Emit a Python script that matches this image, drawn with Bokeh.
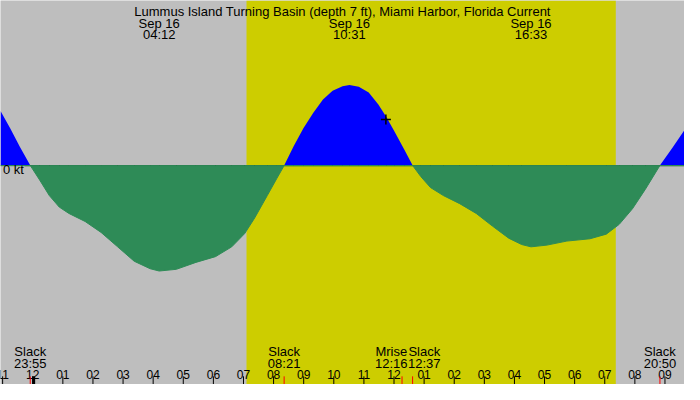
import numpy as np
from bokeh.plotting import figure
from bokeh.models import Range1d, BoxAnnotation
from bokeh.core.properties import value
from bokeh.embed import file_html
from bokeh.resources import INLINE

# ---------------- data ----------------
title_text = "Lummus Island Turning Basin (depth 7 ft), Miami Harbor, Florida Current"

# tidal current: hours since Sep 16 00:00 and speed in knots (+ flood, - ebb)
curve_hours = [-1.07, -0.75, -0.42, -0.08, 0.23, 0.55, 0.88, 1.20, 1.74, 2.27,
               2.82, 3.37, 3.90, 4.20, 4.77, 5.42, 6.07, 6.61, 7.04, 7.37,
               7.79, 8.11, 8.35, 8.67, 8.99, 9.32, 9.64, 9.96, 10.29, 10.52,
               10.83, 11.16, 11.48, 11.75, 12.02, 12.34, 12.62, 12.89, 13.21, 13.64,
               14.18, 14.73, 15.27, 15.81, 16.24, 16.55, 17.08, 17.74, 18.51, 19.05,
               19.48, 19.92, 20.35, 20.83, 21.26, 21.65]
curve_knots = [0.95, 0.65, 0.32, 0.00, -0.25, -0.52, -0.72, -0.83, -0.97, -1.16,
               -1.41, -1.66, -1.79, -1.83, -1.80, -1.68, -1.58, -1.41, -1.18, -0.91,
               -0.52, -0.22, 0.00, 0.34, 0.65, 0.92, 1.15, 1.30, 1.38, 1.40,
               1.37, 1.27, 1.06, 0.84, 0.59, 0.28, 0.00, -0.19, -0.38, -0.52,
               -0.66, -0.83, -1.05, -1.26, -1.37, -1.41, -1.38, -1.31, -1.27, -1.19,
               -1.02, -0.75, -0.41, 0.00, 0.32, 0.62]

# max current events (top labels)
peak_hours = [4 + 12/60, 10 + 31/60, 16 + 33/60]
peak_dates = ["Sep 16", "Sep 16", "Sep 16"]
peak_times = ["04:12", "10:31", "16:33"]

# events along the bottom
event_hours = [-5/60, 8 + 21/60, 12 + 16/60, 12 + 37/60, 20 + 50/60]
event_names = ["Slack", "Slack", "Mrise", "Slack", "Slack"]
event_times = ["23:55", "08:21", "12:16", "12:37", "20:50"]

# hour ticks
tick_hours = list(range(-1, 22))
tick_labels = ["11", "12", "01", "02", "03", "04", "05", "06", "07", "08", "09", "10",
               "11", "12", "01", "02", "03", "04", "05", "06", "07", "08", "09"]

# daylight
sunrise_hour = 7 + 6/60
sunset_hour = 19 + 22/60

# current-time marker
now_hour = 11.73
now_knots = 0.80

# ---------------- layout ----------------
W, H = 684, 384
X0, X1 = -33 / 30.81, 667 / 30.81
Y_TOP, Y_BOT = 172 / 60, -228 / 60
sx = W / 700.0


def ref_y(pix):
    return Y_TOP - pix / 400.0 * (Y_TOP - Y_BOT)


def ref_dx(pix):
    return pix / 700.0 * (X1 - X0)


FONT = value("Liberation Sans")
FS = "13px"
FS_TICK = "12px"

p = figure(width=W, height=H, x_range=Range1d(X0, X1), y_range=Range1d(Y_BOT, Y_TOP),
           toolbar_location=None, output_backend="svg",
           x_axis_location=None, y_axis_location=None, min_border=0)
p.grid.visible = False
p.outline_line_color = None
p.background_fill_color = "#BEBEBE"
p.border_fill_color = "#BEBEBE"

p.add_layout(BoxAnnotation(left=sunrise_hour, right=sunset_hour, fill_color="#CDCD00",
                           fill_alpha=1, line_color=None, level="underlay"))

hrs = np.array(curve_hours)
kts = np.array(curve_knots)

p.varea(x=hrs, y1=np.zeros_like(kts), y2=np.maximum(kts, 0), fill_color="#0000FF")
p.line(x=[X0 + ref_dx(25), X1], y=[0, 0], line_color="black", line_width=1)
neg = np.minimum(kts, 0)
p.patch(x=np.concatenate([hrs, hrs[::-1]]), y=np.concatenate([neg, np.zeros_like(neg)]),
        fill_color="#2E8B57", line_color="#2E8B57", line_width=1)

# current-time marker
p.scatter(x=[now_hour], y=[now_knots], marker="cross", size=10,
          line_color="black", line_width=1.5)

# 0 kt label
p.text(x=[X0 + ref_dx(2.5)], y=[ref_y(176.5)], text=["0 kt"], text_font=FONT,
       text_font_size=FS, text_align="left", text_baseline="alphabetic", text_color="black")

# title and top labels
p.text(x=[(X0 + X1) / 2], y=[ref_y(11.5)], text=[title_text], text_font=FONT,
       text_font_size=FS, text_align="center", text_baseline="alphabetic", text_color="black")
p.text(x=peak_hours, y=[ref_y(23.5)] * len(peak_hours), text=peak_dates, text_font=FONT,
       text_font_size=FS, text_align="center", text_baseline="alphabetic", text_color="black")
p.text(x=peak_hours, y=[ref_y(35.8)] * len(peak_hours), text=peak_times, text_font=FONT,
       text_font_size=FS, text_align="center", text_baseline="alphabetic", text_color="black")

# bottom hour ticks
p.segment(x0=tick_hours, x1=tick_hours, y0=[ref_y(391.5)] * len(tick_hours),
          y1=[Y_BOT] * len(tick_hours), line_color="black", line_width=1)
p.text(x=tick_hours, y=[ref_y(389.5)] * len(tick_hours), text=tick_labels, text_font=FONT,
       text_font_size=FS_TICK, text_align="center", text_baseline="alphabetic", text_color="black")

# event marks and labels
p.segment(x0=event_hours, x1=event_hours, y0=[ref_y(391.5)] * len(event_hours),
          y1=[Y_BOT] * len(event_hours), line_color="red", line_width=1)
p.segment(x0=[0.03], x1=[0.03], y0=[ref_y(391.5)], y1=[Y_BOT], line_color="black", line_width=3)
offsets = [0, 0, -11 * sx, 12 * sx, 0]
p.text(x=event_hours, y=[ref_y(366)] * len(event_hours), text=event_names, x_offset=offsets,
       text_font=FONT, text_font_size=FS, text_align="center", text_baseline="alphabetic",
       text_color="black")
p.text(x=event_hours, y=[ref_y(378.5)] * len(event_hours), text=event_times, x_offset=offsets,
       text_font=FONT, text_font_size=FS, text_align="center", text_baseline="alphabetic",
       text_color="black")

open("out.html", "w").write(file_html(p, INLINE))
